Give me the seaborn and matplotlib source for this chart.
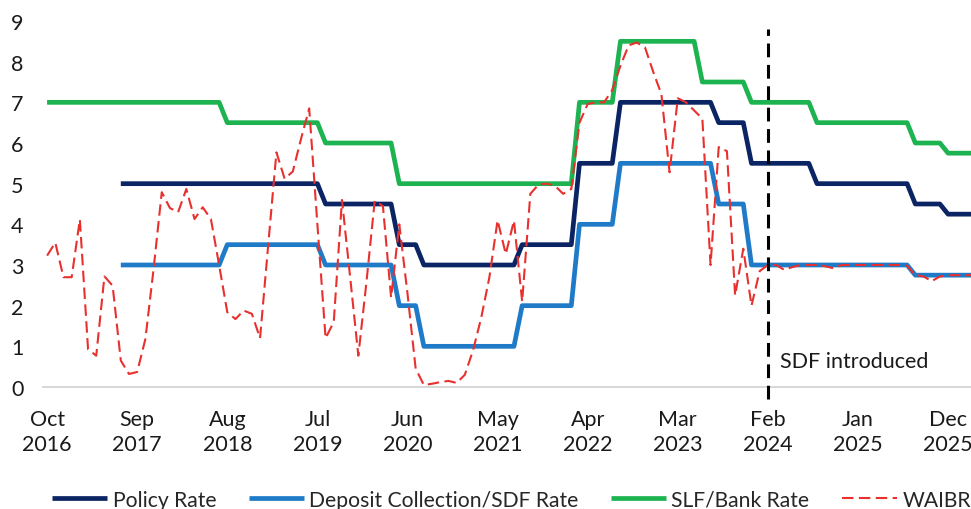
import numpy as np
import pandas as pd
import matplotlib
matplotlib.use("Agg")
import matplotlib.pyplot as plt
import seaborn as sns

nan = np.nan

# ---- data (monthly, Oct 2016 onward) ----
slf_rate = ([7.0] * 22 + [6.5] * 12 + [6.0] * 9 + [5.0] * 22 + [7.0] * 5 +
            [8.5] * 10 + [7.5] * 6 + [7.0] * 8 + [6.5] * 12 + [6.0] * 4 + [5.75] * 4)
policy_rate = ([nan] * 9 + [5.0] * 25 + [4.5] * 9 + [3.5] * 3 + [3.0] * 12 + [3.5] * 7 +
               [5.5] * 5 + [7.0] * 12 + [6.5] * 4 + [5.5] * 8 + [5.0] * 12 + [4.5] * 4 + [4.25] * 4)
deposit_rate = ([nan] * 9 + [3.0] * 13 + [3.5] * 12 + [3.0] * 9 + [2.0] * 3 + [1.0] * 12 +
                [2.0] * 7 + [4.0] * 5 + [5.5] * 12 + [4.5] * 4 + [3.0] * 20 + [2.75] * 8)
waibr = [3.23, 3.55, 2.70, 2.70, 4.12, 0.93, 0.77, 2.72, 2.49, 0.65,
         0.32, 0.37, 1.18, 2.90, 4.79, 4.40, 4.30, 4.87, 4.13, 4.42,
         4.13, 3.00, 1.84, 1.67, 1.88, 1.80, 1.20, 3.50, 5.77, 5.12,
         5.30, 6.10, 6.85, 4.00, 1.20, 1.60, 4.60, 2.70, 0.77, 2.60,
         4.58, 4.45, 2.20, 4.00, 2.30, 0.45, 0.05, 0.08, 0.12, 0.15,
         0.10, 0.30, 0.90, 1.70, 2.70, 4.10, 3.27, 4.09, 2.10, 4.75,
         4.98, 5.00, 4.95, 4.75, 4.87, 6.50, 6.96, 7.00, 7.00, 7.30,
         7.90, 8.40, 8.47, 8.35, 7.75, 7.20, 5.28, 7.10, 7.00, 6.80,
         6.60, 3.00, 5.90, 5.80, 2.25, 3.40, 2.00, 2.85, 3.00, 3.00,
         2.88, 2.95, 3.00, 3.00, 3.00, 2.97, 2.92, 3.00, 3.00, 3.00,
         3.00, 3.00, 3.00, 3.00, 3.00, 2.98, 2.75, 2.72, 2.60, 2.72,
         2.75, 2.75, 2.75, 2.75]

months = pd.date_range("2016-10-01", periods=len(waibr), freq="MS")
tick_labels = ["Oct\n2016", "Sep\n2017", "Aug\n2018", "Jul\n2019", "Jun\n2020", "May\n2021",
               "Apr\n2022", "Mar\n2023", "Feb\n2024", "Jan\n2025", "Dec\n2025"]
tick_every = 11
sdf_month = pd.Timestamp("2024-02-01")

series = {
    "Policy Rate": policy_rate,
    "Deposit Collection/SDF Rate": deposit_rate,
    "SLF/Bank Rate": slf_rate,
    "WAIBR": waibr,
}
colors = {
    "Policy Rate": "#0B2463",
    "Deposit Collection/SDF Rate": "#1F7BC8",
    "SLF/Bank Rate": "#1DB350",
    "WAIBR": "#E8302E",
}

df = pd.DataFrame({"month": np.arange(len(waibr)), **series})

# ---- plot ----
sns.set_theme(style="white")
plt.rcParams["font.family"] = ["Lato", "DejaVu Sans"]
plt.rcParams["font.size"] = 15.5

fig = plt.figure(figsize=(9.71, 5.10), dpi=100)
ax = fig.add_axes([43 / 971, 1 - 388 / 510, 928 / 971, 366 / 510])

draw_order = ["SLF/Bank Rate", "Policy Rate", "Deposit Collection/SDF Rate", "WAIBR"]
for name in draw_order:
    if name == "WAIBR":
        sns.lineplot(data=df, x="month", y=name, ax=ax, color=colors[name],
                     linewidth=1.5, linestyle=(0, (5.5, 2.6)), label=name)
    else:
        sns.lineplot(data=df, x="month", y=name, ax=ax, color=colors[name],
                     linewidth=3.4, label=name, solid_capstyle="butt")

sdf_idx = int(np.where(months == sdf_month)[0][0])
ax.plot([sdf_idx, sdf_idx], [-0.3, 8.8], color="black", linewidth=2.2,
        linestyle=(0, (4.5, 2.5)), clip_on=False, zorder=5)
ax.text(sdf_idx + 1.5, 0.65, "SDF introduced", ha="left", va="center",
        fontsize=15.5, color="#1a1a1a")

ax.set_xlim(-0.5, 112.8)
ax.set_ylim(0, 9)
ax.set_yticks(range(0, 10))
ax.set_xticks(np.arange(0, len(tick_labels) * tick_every, tick_every))
ax.set_xticklabels(tick_labels, linespacing=1.35)
ax.tick_params(axis="both", length=0, labelsize=15.5, colors="#1a1a1a")
ax.tick_params(axis="x", pad=15.5)
ax.tick_params(axis="y", pad=14)
ax.set_xlabel("")
ax.set_ylabel("")
for s in ["top", "right", "left"]:
    ax.spines[s].set_visible(False)
ax.spines["bottom"].set_color("#D0D0D0")
ax.spines["bottom"].set_linewidth(1.2)
ax.grid(False)

h, l = ax.get_legend_handles_labels()
order = ["Policy Rate", "Deposit Collection/SDF Rate", "SLF/Bank Rate", "WAIBR"]
hl = dict(zip(l, h))
ax.legend().remove()
fig.legend([hl[k] for k in order], order, loc="center", bbox_to_anchor=(0.527, 0.018),
           ncol=4, frameon=False, handlelength=2.6, handletextpad=0.25,
           columnspacing=1.55, fontsize=15.2, borderpad=0, borderaxespad=0)

fig.savefig("out.png", dpi=100)
